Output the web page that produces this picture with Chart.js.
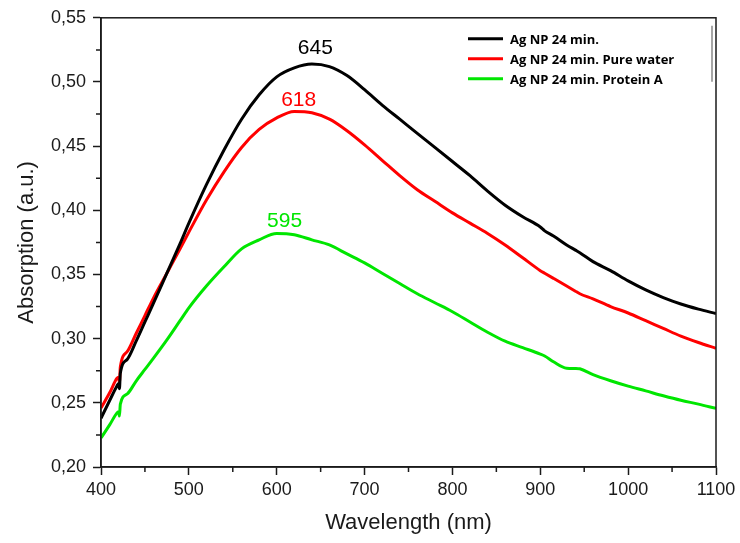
<!DOCTYPE html>
<html>
<head>
<meta charset="utf-8">
<script src="https://cdn.jsdelivr.net/npm/chart.js@4"></script>
<style>
  html, body { margin: 0; padding: 0; background: #fff; }
  canvas { display: block; }
</style>
</head>
<body>
<canvas id="spectraChart" width="740" height="543"></canvas>
<script>
const wavelengths = [400, 410, 418, 420, 421, 422, 430, 440, 450, 460, 475, 490, 500, 520, 540, 560, 580, 600, 620, 640, 660, 680, 700, 720, 740, 760, 780, 800, 820, 840, 860, 880, 900, 905, 915, 930, 940, 945, 960, 980, 1000, 1020, 1040, 1060, 1080, 1100];

const agNp = [0.238, 0.252, 0.263, 0.265, 0.261, 0.273, 0.284, 0.298, 0.313, 0.328, 0.351, 0.374, 0.390, 0.420, 0.447, 0.471, 0.490, 0.504, 0.511, 0.514, 0.512, 0.505, 0.494, 0.482, 0.471, 0.460, 0.449, 0.438, 0.427, 0.415, 0.404, 0.395, 0.387, 0.384, 0.380, 0.373, 0.369, 0.367, 0.360, 0.353, 0.345, 0.338, 0.332, 0.327, 0.323, 0.3195];
const agNpWater = [0.246, 0.258, 0.269, 0.270, 0.266, 0.278, 0.290, 0.304, 0.318, 0.332, 0.351, 0.370, 0.383, 0.408, 0.430, 0.449, 0.463, 0.472, 0.477, 0.476, 0.471, 0.462, 0.451, 0.439, 0.427, 0.416, 0.407, 0.398, 0.390, 0.382, 0.373, 0.363, 0.353, 0.351, 0.347, 0.341, 0.337, 0.335, 0.331, 0.325, 0.320, 0.314, 0.308, 0.302, 0.297, 0.2925];
const agNpProtein = [0.2226, 0.233, 0.242, 0.243, 0.2397, 0.249, 0.257, 0.267, 0.276, 0.285, 0.299, 0.314, 0.324, 0.341, 0.356, 0.370, 0.377, 0.382, 0.381, 0.377, 0.373, 0.366, 0.359, 0.351, 0.343, 0.335, 0.328, 0.321, 0.313, 0.305, 0.298, 0.293, 0.288, 0.2865, 0.282, 0.277, 0.2768, 0.2765, 0.272, 0.2672, 0.263, 0.2593, 0.2555, 0.252, 0.249, 0.2457];

const seriesNames = ["Ag NP 24 min.", "Ag NP 24 min. Pure water", "Ag NP 24 min. Protein A"];
const seriesColors = ["#000000", "#ff0000", "#00e600"];

// peak labels, placed at (wavelength, absorption)
const peakTexts = ["645", "618", "595"];
const peakX = [644, 625, 609];
const peakY = [0.522, 0.4816, 0.3867];

const xMin = 400, xMax = 1100, xStep = 100;
const yMin = 0.20, yMax = 0.55, yStep = 0.05;

function toPoints(ys) {
  return wavelengths.map((w, i) => ({ x: w, y: ys[i] }));
}

function fmtComma(v) {
  return Number(v).toFixed(2).replace(".", ",");
}

const frameAndExtras = {
  id: "frameAndExtras",
  afterDraw(chart) {
    const { ctx, chartArea: a, scales } = chart;
    const xs = scales.x, ys = scales.y;
    ctx.save();

    // frame
    ctx.strokeStyle = "#1a1a1a";
    ctx.lineWidth = 1.5;
    ctx.strokeRect(a.left, a.top, a.right - a.left, a.bottom - a.top);

    // minor ticks
    ctx.beginPath();
    for (let i = 0; i < xs.ticks.length - 1; i++) {
      const m = (xs.ticks[i].value + xs.ticks[i + 1].value) / 2;
      const px = xs.getPixelForValue(m);
      ctx.moveTo(px, a.bottom);
      ctx.lineTo(px, a.bottom + 5);
    }
    for (let i = 0; i < ys.ticks.length - 1; i++) {
      const m = (ys.ticks[i].value + ys.ticks[i + 1].value) / 2;
      const py = ys.getPixelForValue(m);
      ctx.moveTo(a.left, py);
      ctx.lineTo(a.left - 5, py);
    }
    ctx.stroke();

    // peak labels
    ctx.font = "21px 'Liberation Sans', Arial, sans-serif";
    ctx.textAlign = "center";
    ctx.textBaseline = "alphabetic";
    peakTexts.forEach((t, i) => {
      ctx.fillStyle = seriesColors[i];
      ctx.fillText(t, xs.getPixelForValue(peakX[i]), ys.getPixelForValue(peakY[i]));
    });

    // legend
    ctx.font = "bold 13px 'Open Sans', 'Liberation Sans', sans-serif";
    ctx.textAlign = "left";
    ctx.textBaseline = "middle";
    const lx = a.right - 248, ly = a.top + 21;
    seriesNames.forEach((name, i) => {
      const y = ly + i * 20;
      ctx.strokeStyle = seriesColors[i];
      ctx.lineWidth = 3;
      ctx.beginPath();
      ctx.moveTo(lx, y);
      ctx.lineTo(lx + 35, y);
      ctx.stroke();
      ctx.fillStyle = "#000";
      ctx.fillText(name, lx + 42, y + 1);
    });
    ctx.strokeStyle = "#888";
    ctx.lineWidth = 1.5;
    ctx.beginPath();
    ctx.moveTo(a.right - 4, a.top + 8);
    ctx.lineTo(a.right - 4, a.top + 64);
    ctx.stroke();

    ctx.restore();
  }
};

const datasets = [agNp, agNpWater, agNpProtein].map((vals, i) => ({
  label: seriesNames[i],
  data: toPoints(vals),
  borderColor: seriesColors[i],
  backgroundColor: seriesColors[i],
  borderWidth: 3,
  pointRadius: 0,
  cubicInterpolationMode: "monotone",
  fill: false
}));

new Chart(document.getElementById("spectraChart"), {
  type: "line",
  data: { datasets },
  options: {
    responsive: false,
    animation: false,
    devicePixelRatio: 1,
    layout: { padding: { left: 0, right: 24, top: 17, bottom: 0 } },
    plugins: {
      legend: { display: false },
      tooltip: { enabled: false }
    },
    scales: {
      x: {
        type: "linear",
        min: xMin,
        max: xMax,
        afterFit: s => { s.height = 76; },
        ticks: {
          stepSize: xStep,
          color: "#1a1a1a",
          padding: 4,
          maxRotation: 0,
          callback: v => String(v),
          font: { size: 18, family: "'Liberation Sans', Arial, sans-serif" }
        },
        grid: { drawOnChartArea: false, drawTicks: true, tickLength: 8, tickColor: "#1a1a1a", tickWidth: 1.5 },
        border: { color: "#1a1a1a", width: 1.5 },
        title: {
          display: true,
          text: "Wavelength (nm)",
          color: "#1a1a1a",
          padding: { top: 0, bottom: 7 },
          font: { size: 22, family: "'Liberation Sans', Arial, sans-serif" }
        }
      },
      y: {
        type: "linear",
        min: yMin,
        max: yMax,
        afterFit: s => { s.width = 101; },
        ticks: {
          stepSize: yStep,
          color: "#1a1a1a",
          padding: 7,
          callback: v => fmtComma(v),
          font: { size: 18, family: "'Liberation Sans', Arial, sans-serif" }
        },
        grid: { drawOnChartArea: false, drawTicks: true, tickLength: 8, tickColor: "#1a1a1a", tickWidth: 1.5 },
        border: { color: "#1a1a1a", width: 1.5 },
        title: {
          display: true,
          text: "Absorption (a.u.)",
          color: "#1a1a1a",
          padding: { top: 14, bottom: 0 },
          font: { size: 22, family: "'Liberation Sans', Arial, sans-serif" }
        }
      }
    }
  },
  plugins: [frameAndExtras]
});
</script>
</body>
</html>
